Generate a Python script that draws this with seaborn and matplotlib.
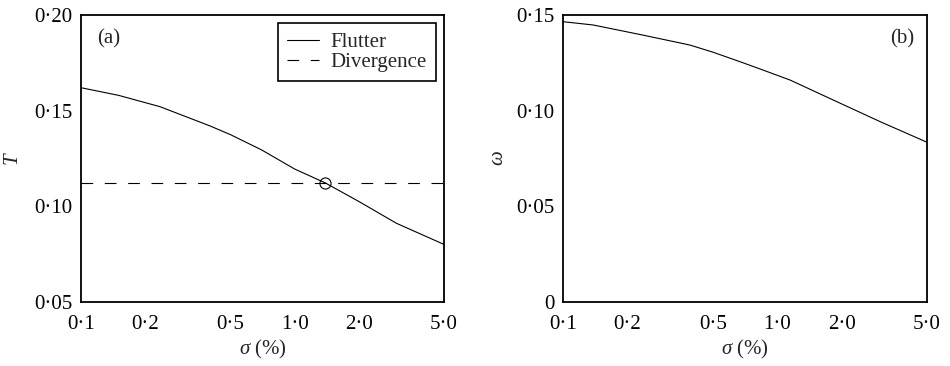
import numpy as np
import pandas as pd
import matplotlib
matplotlib.use("Agg")
import matplotlib.pyplot as plt
import seaborn as sns

# panel (a): flutter boundary T vs sigma
sigma_a = [0.1, 0.15, 0.234, 0.402, 0.5, 0.7, 1.0, 1.388, 2.0, 3.0, 5.0]
T_flutter = [0.162, 0.158, 0.1521, 0.142, 0.1375, 0.1295, 0.1195, 0.1123,
             0.1025, 0.0911, 0.0801]
T_divergence = 0.1123
cross_sigma = 1.388

# panel (b): frequency omega vs sigma
sigma_b = [0.1, 0.138, 0.236, 0.391, 0.5, 0.67, 0.831, 1.148, 1.897, 3.03, 5.0]
omega = [0.1465, 0.1448, 0.1395, 0.1343, 0.1306, 0.1256, 0.1218, 0.116, 0.1047, 0.0942, 0.0835]

x_ticks = [0.1, 0.2, 0.5, 1.0, 2.0, 5.0]
x_tick_labels = ["0·1", "0·2", "0·5", "1·0", "2·0", "5·0"]
ya_ticks = [0.05, 0.10, 0.15, 0.20]
ya_tick_labels = ["0·05", "0·10", "0·15", "0·20"]
yb_ticks = [0, 0.05, 0.10, 0.15]
yb_tick_labels = ["0", "0·05", "0·10", "0·15"]

sns.set_style("white")
plt.rcParams["font.family"] = ["Liberation Serif", "DejaVu Serif"]
plt.rcParams["mathtext.fontset"] = "custom"
plt.rcParams["mathtext.it"] = "Liberation Serif:italic"
plt.rcParams["mathtext.rm"] = "Liberation Serif"

fig = plt.figure(figsize=(9.5, 3.66), dpi=100)
ax1 = fig.add_axes([81 / 950, 1 - 302 / 366, 363 / 950, 287 / 366])
ax2 = fig.add_axes([563 / 950, 1 - 302 / 366, 364 / 950, 287 / 366])

df_a = pd.DataFrame({"sigma": sigma_a, "T": T_flutter})
df_b = pd.DataFrame({"sigma": sigma_b, "omega": omega})

sns.lineplot(data=df_a, x="sigma", y="T", ax=ax1, color="black", lw=0.8, label="Flutter")
ax1.axhline(T_divergence, color="black", lw=0.8, ls=(0, (10.5, 10.5)), label="Divergence")
ax1.plot([cross_sigma], [T_divergence], marker="o", ms=8, mfc="none", mec="black", mew=0.8)

sns.lineplot(data=df_b, x="sigma", y="omega", ax=ax2, color="black", lw=0.8)

for ax in (ax1, ax2):
    ax.set_xscale("log")
    ax.set_xlim(0.1, 5.0)
    ax.set_xticks(x_ticks)
    ax.set_xticklabels(x_tick_labels)
    ax.minorticks_off()
    ax.tick_params(direction="in", length=5, width=1, labelsize=15, pad=6,
                   top=False, right=False, colors="black")
    ax.tick_params(axis="x", pad=9.5)
    for s in ax.spines.values():
        s.set_color("black")
        s.set_linewidth(1.3)
    ax.set_xlabel(r"$\sigma$ (%)", fontsize=15, labelpad=3)

ax1.set_ylim(0.05, 0.20)
ax1.set_yticks(ya_ticks)
ax1.set_yticklabels(ya_tick_labels)
ax1.set_ylabel(r"$T$", fontsize=15, labelpad=8)
ax1.text(0.045, 0.9, "(a)", transform=ax1.transAxes, fontsize=15)
leg = ax1.legend(loc="upper right", fontsize=15, frameon=True, fancybox=False,
                 edgecolor="black", framealpha=1, handlelength=1.5,
                 borderpad=0.45, labelspacing=0.0, handletextpad=0.55,
                 borderaxespad=0.4)
leg.get_frame().set_linewidth(1.2)

ax2.set_ylim(0, 0.15)
ax2.set_yticks(yb_ticks)
ax2.set_yticklabels(yb_tick_labels)
ax2.set_ylabel(r"$\omega$", fontsize=15, labelpad=6)
ax2.text(0.90, 0.9, "(b)", transform=ax2.transAxes, fontsize=15)

fig.savefig("out.png", dpi=100)
